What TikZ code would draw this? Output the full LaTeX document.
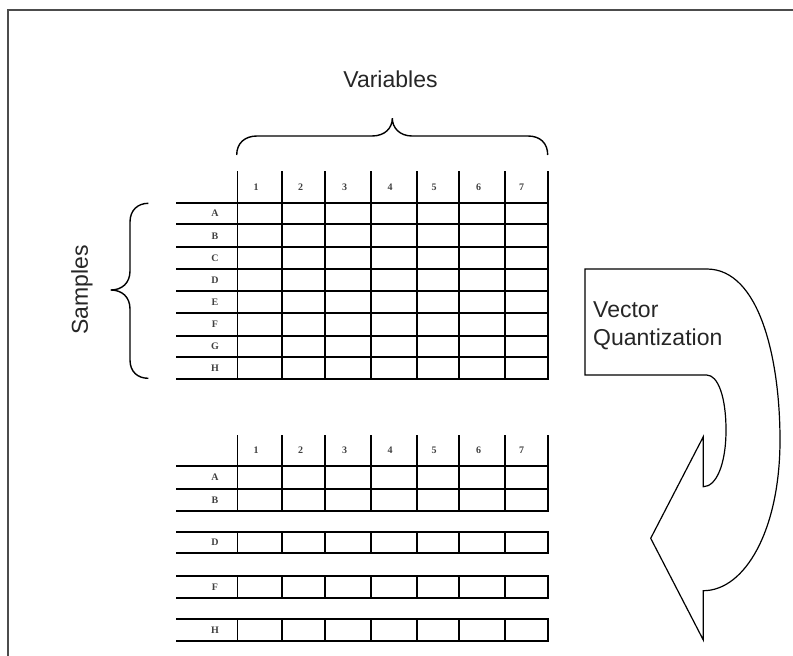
\documentclass[tikz,border=0pt]{standalone}
\usepackage{fontspec}
\setmainfont{Liberation Serif}
\newfontfamily\labelsans{Liberation Sans}
\begin{document}
\begin{tikzpicture}[x=1pt,y=-1pt,
  grid/.style={line width=1.9pt, line cap=rect},
  cell/.style={font=\bfseries\fontsize{10}{10}\selectfont, inner sep=0pt, text=black!75},
  title/.style={font=\labelsans\fontsize{23}{28}\selectfont, inner sep=0pt, text=black!85},
  bracestyle/.style={line width=1.4pt},
  frame/.style={line width=2pt, draw=black!70},
  qarrow/.style={line width=1.2pt}]
\useasboundingbox (0,0) rectangle (793,656);
\draw[frame] (8,656) -- (8,9.5) -- (793,9.5);

% ---------- top table ----------
\foreach \x in {237.5,282.3,325.3,371,416.7,459.3,504.7,547.7}
  \draw[grid] (\x,171.7) -- (\x,379);
\foreach \y in {202.7,224.3,247.3,269,291,312.7,335.7,357,379}
  \draw[grid] (176.7,\y) -- (547.7,\y);
\foreach \i/\x in {1/256,2/300.5,3/344.5,4/390,5/434,6/478.5,7/521.5}
  \node[cell] (tc\i) at (\x,187.5) {\i};
\foreach \r/\y in {A/213.5,B/235.8,C/258.2,D/280,E/301.9,F/324.2,G/346.4,H/368}
  \node[cell] (tr\r) at (215,\y) {\r};

% ---------- bottom table ----------
\foreach \x in {237.5,282.3,325.3,371,416.7,459.3,504.7,547.7}{
  \draw[grid] (\x,436) -- (\x,510.7);
  \draw[grid] (\x,531.7) -- (\x,553.3);
  \draw[grid] (\x,575.7) -- (\x,598.3);
  \draw[grid] (\x,619.3) -- (\x,640.7);
}
\foreach \y in {465.7,489.3,510.7,531.7,553.3,575.7,598.3,619.3,640.7}
  \draw[grid] (176.7,\y) -- (547.7,\y);
\foreach \i/\x in {1/256,2/300.5,3/344.5,4/390,5/434,6/478.5,7/521.5}
  \node[cell] (bc\i) at (\x,450.5) {\i};
\foreach \r/\y in {A/477.5,B/500,D/542.5,F/587,H/630}
  \node[cell] (br\r) at (215,\y) {\r};

% ---------- braces ----------
\draw[bracestyle] (236.7,155) .. controls (236.7,143) and (245,136) .. (257,136)
  -- (372,136) .. controls (385,136) and (392.3,128) .. (392.3,118.3)
  .. controls (392.3,128) and (400,136) .. (412,136)
  -- (528,136) .. controls (540,136) and (547.7,143) .. (547.7,155);
\node[title, anchor=base] (vars) at (390.5,87) {Variables};

\draw[bracestyle] (148.3,203.3) .. controls (138,203.3) and (130,210) .. (130,222)
  -- (130,271) .. controls (130,283) and (122,290) .. (110.7,290)
  .. controls (122,290) and (130,297) .. (130,309)
  -- (130,360) .. controls (130,372) and (138,378.3) .. (148.3,378.3);
\node[title, rotate=90] (samples) at (82,290) {Samples};

% ---------- curved arrow ----------
\draw[qarrow] (585,269) -- (706.7,269)
  .. controls (760,269) and (780,360) .. (780,440)
  .. controls (780,530) and (745,590.7) .. (703.3,590.7)
  -- (703.3,640) -- (650.7,538.3) -- (703.3,436.7) -- (703.3,486.7)
  .. controls (716,486.7) and (726,465) .. (726,430)
  .. controls (726,397) and (718,375) .. (706.7,375)
  -- (585,375) -- cycle;
\node[title, anchor=base west] (vq1) at (593,317) {Vector};
\node[title, anchor=base west] (vq2) at (593,345) {Quantization};
\end{tikzpicture}
\end{document}
